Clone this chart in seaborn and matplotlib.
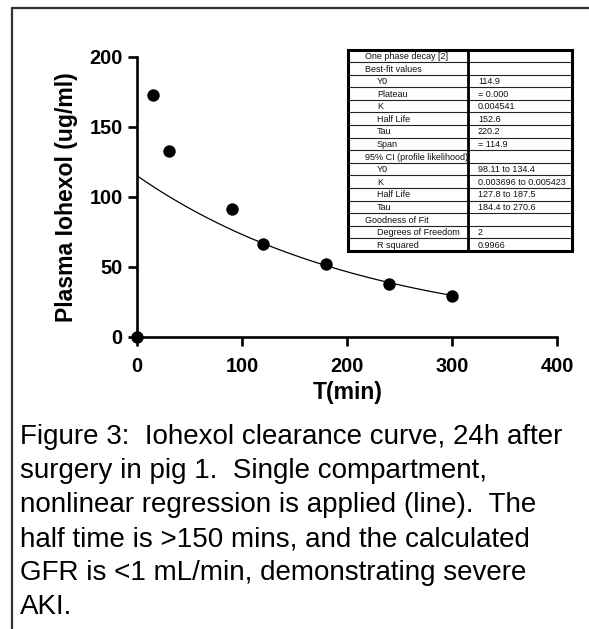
import numpy as np
import pandas as pd
import matplotlib
matplotlib.use("Agg")
import matplotlib.pyplot as plt
import seaborn as sns
from matplotlib.lines import Line2D

# ---- data ----
time_min = [0, 15, 30, 90, 120, 180, 240, 300]
iohexol = [0, 173, 133, 91, 66, 52, 38, 29]
fit_Y0 = 114.9
fit_K = 0.004541
fit_tmax = 300

x_ticks = [0, 100, 200, 300, 400]
y_ticks = [0, 50, 100, 150, 200]

table_labels = ["One phase decay [2]", "Best-fit values", "Y0", "Plateau", "K",
                "Half Life", "Tau", "Span", "95% CI (profile likelihood)", "Y0", "K",
                "Half Life", "Tau", "Goodness of Fit", "Degrees of Freedom", "R squared"]
table_indent = [0, 0, 1, 1, 1, 1, 1, 1, 0, 1, 1, 1, 1, 0, 1, 1]
table_values = ["", "", "114.9", "= 0.000", "0.004541", "152.6", "220.2", "= 114.9", "",
                "98.11 to 134.4", "0.003696 to 0.005423", "127.8 to 187.5",
                "184.4 to 270.6", "", "2", "0.9966"]

caption_lines = ["Figure 3:  Iohexol clearance curve, 24h after",
                 "surgery in pig 1.  Single compartment,",
                 "nonlinear regression is applied (line).  The",
                 "half time is >150 mins, and the calculated",
                 "GFR is <1 mL/min, demonstrating severe",
                 "AKI."]

# ---- style ----
sns.set_theme(style="ticks")
plt.rcParams['font.family'] = ['Liberation Sans', 'DejaVu Sans']

W, H = 589, 629
fig = plt.figure(figsize=(W / 100, H / 100), dpi=100)
fig.patch.set_facecolor("white")

ax_l, ax_r, ax_b, ax_t = 137.2, 557.3, 336.7, 56.7
ax = fig.add_axes([ax_l / W, 1 - ax_b / H, (ax_r - ax_l) / W, (ax_b - ax_t) / H])
ax.set_facecolor("white")

df = pd.DataFrame({"T": time_min, "C": iohexol})
sns.scatterplot(data=df, x="T", y="C", ax=ax, s=80, color="black",
                edgecolor="black", linewidth=0, clip_on=False, zorder=5)

t_fit = np.linspace(0, fit_tmax, 301)
fit_df = pd.DataFrame({"T": t_fit, "C": fit_Y0 * np.exp(-fit_K * t_fit)})
sns.lineplot(data=fit_df, x="T", y="C", ax=ax, color="black", linewidth=0.9)

ax.set_xlim(0, 400)
ax.set_ylim(0, 200)
ax.set_xticks(x_ticks)
ax.set_yticks(y_ticks)
ax.set_xticklabels([str(v) for v in x_ticks], fontsize=14.4, fontweight="bold")
ax.set_yticklabels([str(v) for v in y_ticks], fontsize=14.4, fontweight="bold")
for side in ["top", "right"]:
    ax.spines[side].set_visible(False)
for side in ["left", "bottom"]:
    ax.spines[side].set_linewidth(1.9)
    ax.spines[side].set_color("black")
ax.tick_params(axis="both", length=6.5, width=1.9, color="black", labelcolor="black")
ax.tick_params(axis="x", pad=8)
ax.tick_params(axis="y", pad=4)
ax.set_xlabel("T(min)", fontsize=16.6, fontweight="bold", color="black")
ax.set_ylabel("Plasma Iohexol (ug/ml)", fontsize=16.6, fontweight="bold", color="black")
ax.xaxis.set_label_coords(0.5, -0.158)
ax.yaxis.set_label_coords(-0.14, 0.5)

# ---- results table ----
tb_l, tb_r, tb_t, tb_b = 348, 572, 49.5, 251
tax = fig.add_axes([tb_l / W, 1 - tb_b / H, (tb_r - tb_l) / W, (tb_b - tb_t) / H])
n = len(table_labels)
tax.set_xlim(0, 1)
tax.set_ylim(n, 0)
tax.axis("off")
div = (467.7 - tb_l) / (tb_r - tb_l)
for i in range(1, n):
    tax.plot([0, 1], [i, i], color="#222222", linewidth=0.8)
tax.plot([div, div], [0, n], color="black", linewidth=2.0)
tax.add_patch(plt.Rectangle((0, 0), 1, n, fill=False, edgecolor="black",
                            linewidth=2.2, clip_on=False))
for i, (lab, ind, val) in enumerate(zip(table_labels, table_indent, table_values)):
    xl = (365 - tb_l) / (tb_r - tb_l) if ind == 0 else (377 - tb_l) / (tb_r - tb_l)
    tax.text(xl, i + 0.55, lab, fontsize=6.5, va="center", ha="left", color="#111111")
    if val:
        tax.text((478 - tb_l) / (tb_r - tb_l), i + 0.55, val, fontsize=6.5,
                 va="center", ha="left", color="#111111")

# ---- caption ----
for k, line in enumerate(caption_lines):
    fig.text(20 / W, 1 - (437 + 34 * k) / H, line, fontsize=20.0, va="center",
             ha="left", color="black")

# ---- frame ----
fig.add_artist(Line2D([11.5 / W, 1], [1 - 7.5 / H, 1 - 7.5 / H], color="#333333",
                      linewidth=1.6, transform=fig.transFigure))
fig.add_artist(Line2D([11.5 / W, 11.5 / W], [0, 1 - 7.5 / H], color="#333333",
                      linewidth=1.6, transform=fig.transFigure))

fig.savefig("out.png", dpi=100, facecolor="white")
